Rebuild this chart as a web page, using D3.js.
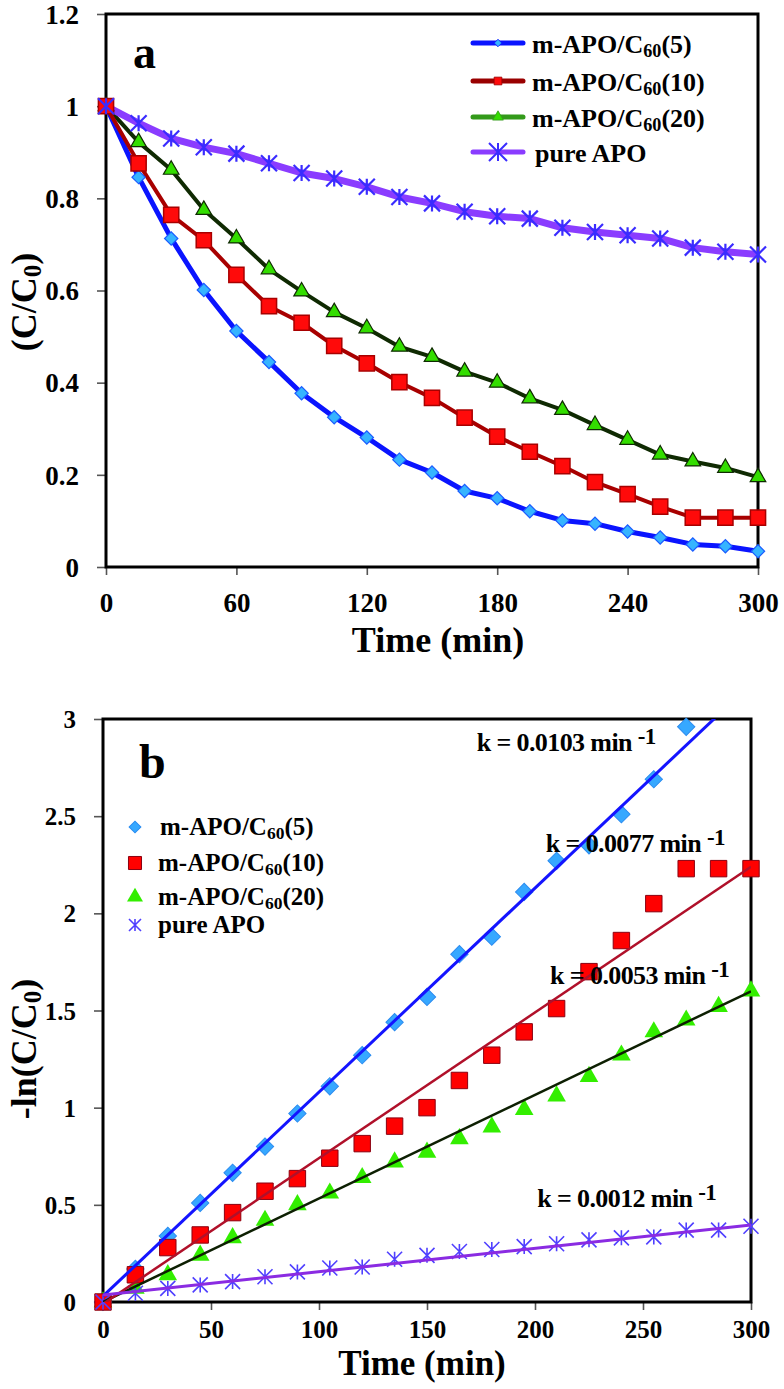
<!DOCTYPE html>
<html><head><meta charset="utf-8">
<script src="https://cdn.jsdelivr.net/npm/d3@7"></script>
<style>
body{margin:0;background:#fff}
svg{display:block}
text{font-family:"Liberation Serif","DejaVu Serif",serif;font-weight:bold;fill:#000}
</style>
</head><body>
<svg id="c" width="784" height="1389"></svg>
<script>
// ---------- data ----------
const time = [0,15,30,45,60,75,90,105,120,135,150,165,180,195,210,225,240,255,270,285,300];
const seriesNames = ["m-APO/C60(5)","m-APO/C60(10)","m-APO/C60(20)","pure APO"];

// panel a : C/C0
const a5   = [1,0.846,0.713,0.601,0.512,0.445,0.377,0.325,0.281,0.233,0.205,0.165,0.149,0.121,0.101,0.094,0.077,0.064,0.049,0.045,0.034];
const a10  = [1,0.876,0.764,0.709,0.634,0.566,0.530,0.480,0.442,0.401,0.367,0.324,0.283,0.250,0.219,0.184,0.158,0.131,0.107,0.107,0.107];
const a20  = [1,0.922,0.862,0.775,0.713,0.646,0.598,0.553,0.518,0.478,0.456,0.424,0.400,0.366,0.341,0.308,0.276,0.244,0.229,0.215,0.195];
const aApo = [1,0.963,0.930,0.911,0.897,0.876,0.855,0.843,0.825,0.803,0.789,0.771,0.761,0.756,0.736,0.727,0.720,0.713,0.693,0.684,0.678];

// panel b : -ln(C/C0)
const b5   = [0,0.17,0.34,0.51,0.665,0.80,0.97,1.11,1.27,1.44,1.57,1.79,1.88,2.11,2.27,2.35,2.51,2.69,2.96,3.10,3.38];
const b10  = [0,0.14,0.28,0.345,0.46,0.57,0.635,0.74,0.815,0.905,1.00,1.14,1.27,1.39,1.51,1.70,1.86,2.05,2.23,2.23,2.23];
const b20  = [0,0.07,0.14,0.24,0.33,0.42,0.50,0.56,0.64,0.72,0.77,0.84,0.90,0.99,1.06,1.16,1.27,1.39,1.45,1.52,1.60];
const bApo = [0,0.045,0.07,0.088,0.105,0.13,0.155,0.175,0.18,0.22,0.24,0.26,0.27,0.285,0.30,0.32,0.33,0.335,0.37,0.37,0.39];

// linear fits
const fitSlope     = [0.0105, 0.0075, 0.00533, 0.0012];
const fitIntercept = [0.03, -0.01, 0.0, 0.036];
const kLabels = ["k = 0.0103 min","k = 0.0077 min","k = 0.0053 min","k = 0.0012 min"];
const kAnchorT = [173, 205, 207, 201];
const kAnchorV = [2.835, 2.314, 1.634, 0.49];

const aXTicks = [0,60,120,180,240,300];
const aYTicks = [0,0.2,0.4,0.6,0.8,1,1.2];
const bXTicks = [0,50,100,150,200,250,300];
const bYTicks = [0,0.5,1,1.5,2,2.5,3];

// ---------- helpers ----------
const FONT = '"Liberation Serif","DejaVu Serif",serif';
const svg = d3.select("#c");

function starPath(r){
  return `M0,${-r}L0,${r}M${-r},${-r}L${r},${r}M${-r},${r}L${r},${-r}`;
}
function markerPath(kind, s){
  if(kind==="diamond") return d3.symbol().type(d3.symbolSquare).size(s)();
  if(kind==="square") return d3.symbol().type(d3.symbolSquare).size(s)();
  if(kind==="triangle") return d3.symbol().type(d3.symbolTriangle).size(s)();
  return starPath(s);
}
function nameText(g, x, y, name, fs){
  const m = name.match(/^(.*C)(60)(.*)$/);
  const t = g.append("text").attr("x",x).attr("y",y).style("font-size",fs+"px");
  if(m){
    t.append("tspan").text(m[1]);
    t.append("tspan").attr("dy",4).style("font-size",(fs*0.7)+"px").text(m[2]);
    t.append("tspan").attr("dy",-4).text(m[3]);
  } else t.text(name);
  return t;
}
function drawAxes(g, x, y, xt, yt, fs, xLabY){
  const gx = g.append("g").attr("transform",`translate(0,${y.range()[0]})`)
    .call(d3.axisBottom(x).tickValues(xt).tickSize(8).tickSizeOuter(0).tickFormat(d=>d));
  const gy = g.append("g").attr("transform",`translate(${x.range()[0]},0)`)
    .call(d3.axisLeft(y).tickValues(yt).tickSize(9).tickSizeOuter(0).tickFormat(d=>d));
  [gx,gy].forEach(a=>{
    a.attr("font-family",FONT);
    a.select(".domain").remove();
    a.selectAll(".tick line").attr("stroke","#555").attr("stroke-width",1.6);
    a.selectAll(".tick text").style("font-size",fs+"px")
      .style("font-family",FONT).style("font-weight","bold").attr("fill","#000");
  });
  gx.selectAll(".tick text").attr("dy",null).attr("y",xLabY);
  gy.selectAll(".tick text").attr("x",-27).attr("dy","0.34em");
  g.append("rect").attr("x",x.range()[0]).attr("y",y.range()[1])
    .attr("width",x.range()[1]-x.range()[0]).attr("height",y.range()[0]-y.range()[1])
    .attr("fill","none").attr("stroke","#000").attr("stroke-width",3);
}

// ---------- panel a ----------
{
  const g = svg.append("g");
  const x = d3.scaleLinear().domain([0,300]).range([106,758]);
  const y = d3.scaleLinear().domain([0,1.2]).range([567,14]);
  drawAxes(g, x, y, aXTicks, aYTicks, 27, 45);

  const series = [
    {v:a5,  line:"#0a14ff", lw:5, kind:"diamond", size:88, fill:"#36b4ff", stroke:"#1a5cff", sw:1.2, rot:45, leg:"#0a14ff"},
    {v:a20, line:"#0f2a02", lw:4, kind:"triangle", size:105, fill:"#33dd00", stroke:"#0f2a02", sw:1.2, rot:0, leg:"#339a1a"},
    {v:a10, line:"#a80000", lw:4, kind:"square", size:230, fill:"#ff0a0a", stroke:"#a80000", sw:1.5, rot:0, leg:"#990000"},
    {v:aApo,line:"#8a3cff", lw:7, kind:"star", size:8, fill:"none", stroke:"#3a2cff", sw:2.2, rot:0, leg:"#8a3cff"}
  ];
  const line = d3.line().x((d,i)=>x(time[i])).y(d=>y(d));
  series.forEach(s=>{
    g.append("path").attr("d",line(s.v)).attr("fill","none").attr("stroke",s.line)
      .attr("stroke-width",s.lw).attr("stroke-linejoin","round");
  });
  series.forEach(s=>{
    g.selectAll(null).data(s.v).enter().append("path")
      .attr("d",markerPath(s.kind,s.size))
      .attr("transform",(d,i)=>`translate(${x(time[i])},${y(d)}) rotate(${s.rot})`)
      .attr("fill",s.fill).attr("stroke",s.stroke).attr("stroke-width",s.sw);
  });

  const legOrder = [series[0],series[2],series[1],series[3]];
  const legY = [43,81,117,152];
  legOrder.forEach((s,i)=>{
    const ly = legY[i];
    g.append("line").attr("x1",473).attr("x2",523).attr("y1",ly).attr("y2",ly)
      .attr("stroke",s.leg).attr("stroke-width",5).attr("stroke-linecap","round");
    let ms = s.kind==="star"?9:(s.kind==="diamond"?28:(s.kind==="square"?60:50));
    g.append("path").attr("d",markerPath(s.kind,ms))
      .attr("transform",`translate(498,${ly}) rotate(${s.rot})`)
      .attr("fill",s.fill).attr("stroke",s.kind==="star"?s.stroke:s.leg).attr("stroke-width",s.kind==="star"?2:0.8);
    nameText(g, s.kind==="star"?535:532, ly+10, seriesNames[i], 26);
  });

  g.append("text").attr("x",133).attr("y",68).style("font-size","46px").text("a");
  g.append("text").attr("transform","translate(36,302) rotate(-90)").attr("text-anchor","middle")
    .style("font-size","36px")
    .call(t=>{t.append("tspan").text("(C/C");
             t.append("tspan").attr("dy",5).style("font-size","25px").text("0");
             t.append("tspan").attr("dy",-5).text(")");});
  g.append("text").attr("x",438).attr("y",652).attr("text-anchor","middle")
    .style("font-size","36px").text("Time (min)");
}

// ---------- panel b ----------
{
  const g = svg.append("g");
  const x = d3.scaleLinear().domain([0,300]).range([103,751]);
  const y = d3.scaleLinear().domain([0,3]).range([1302,719]);
  drawAxes(g, x, y, bXTicks, bYTicks, 25, 36);

  svg.append("defs").append("clipPath").attr("id","clipb").append("rect")
    .attr("x",103).attr("y",719).attr("width",648).attr("height",583);

  const series = [
    {v:b5,  idx:0, line:"#1414ff", lw:3, kind:"diamond", size:150, fill:"#36a8ff", stroke:"#2c8cf0", sw:1, rot:45},
    {v:b20, idx:2, line:"#0d1f02", lw:2.5, kind:"triangle", size:150, fill:"#33ee00", stroke:"none", sw:0, rot:0},
    {v:b10, idx:1, line:"#b0102a", lw:2.5, kind:"square", size:270, fill:"#ff0000", stroke:"#8a0010", sw:1, rot:0},
    {v:bApo,idx:3, line:"#8a2be2", lw:3, kind:"star", size:7.5, fill:"none", stroke:"#5040ff", sw:1.6, rot:0}
  ];
  series.forEach(s=>{
    g.selectAll(null).data(s.v.map((d,i)=>({t:time[i],v:d})).filter(d=>d.v<=3))
      .enter().append("path")
      .attr("d",markerPath(s.kind,s.size))
      .attr("transform",d=>`translate(${x(d.t)},${y(d.v)}) rotate(${s.rot})`)
      .attr("fill",s.fill).attr("stroke",s.stroke).attr("stroke-width",s.sw);
  });
  series.forEach(s=>{
    const f = [0,300].map(t=>[x(t), y(fitIntercept[s.idx]+fitSlope[s.idx]*t)]);
    g.append("path").attr("d",d3.line()(f)).attr("clip-path","url(#clipb)")
      .attr("fill","none").attr("stroke",s.line).attr("stroke-width",s.lw);
  });

  kLabels.forEach((k,i)=>{
    const t = g.append("text").attr("x",x(kAnchorT[i])).attr("y",y(kAnchorV[i]))
      .style("font-size","26px").style("letter-spacing","-0.6px");
    t.append("tspan").text(k+" ");
    t.append("tspan").attr("dy",-7).style("font-size","23px").text("-1");
  });

  const legY = [827,863,897,925];
  const legOrder = [series[0],series[2],series[1],series[3]];
  legOrder.forEach((s,i)=>{
    const ly = legY[i];
    const ms = s.kind==="star"?6:(s.kind==="diamond"?70:(s.kind==="square"?170:110));
    g.append("path").attr("d",markerPath(s.kind,ms))
      .attr("transform",`translate(135,${ly}) rotate(${s.rot})`)
      .attr("fill",s.fill).attr("stroke",s.stroke).attr("stroke-width",s.sw);
    nameText(g, i===0?160:158, ly+8, seriesNames[i], 25);
  });

  g.append("text").attr("x",139).attr("y",778).style("font-size","48px").text("b");
  g.append("text").attr("transform","translate(36,1049) rotate(-90)").attr("text-anchor","middle")
    .style("font-size","36px")
    .call(t=>{t.append("tspan").text("-ln(C/C");
             t.append("tspan").attr("dy",5).style("font-size","25px").text("0");
             t.append("tspan").attr("dy",-5).text(")");});
  g.append("text").attr("x",422).attr("y",1375).attr("text-anchor","middle")
    .style("font-size","35px").text("Time (min)");
}
</script>
</body></html>
